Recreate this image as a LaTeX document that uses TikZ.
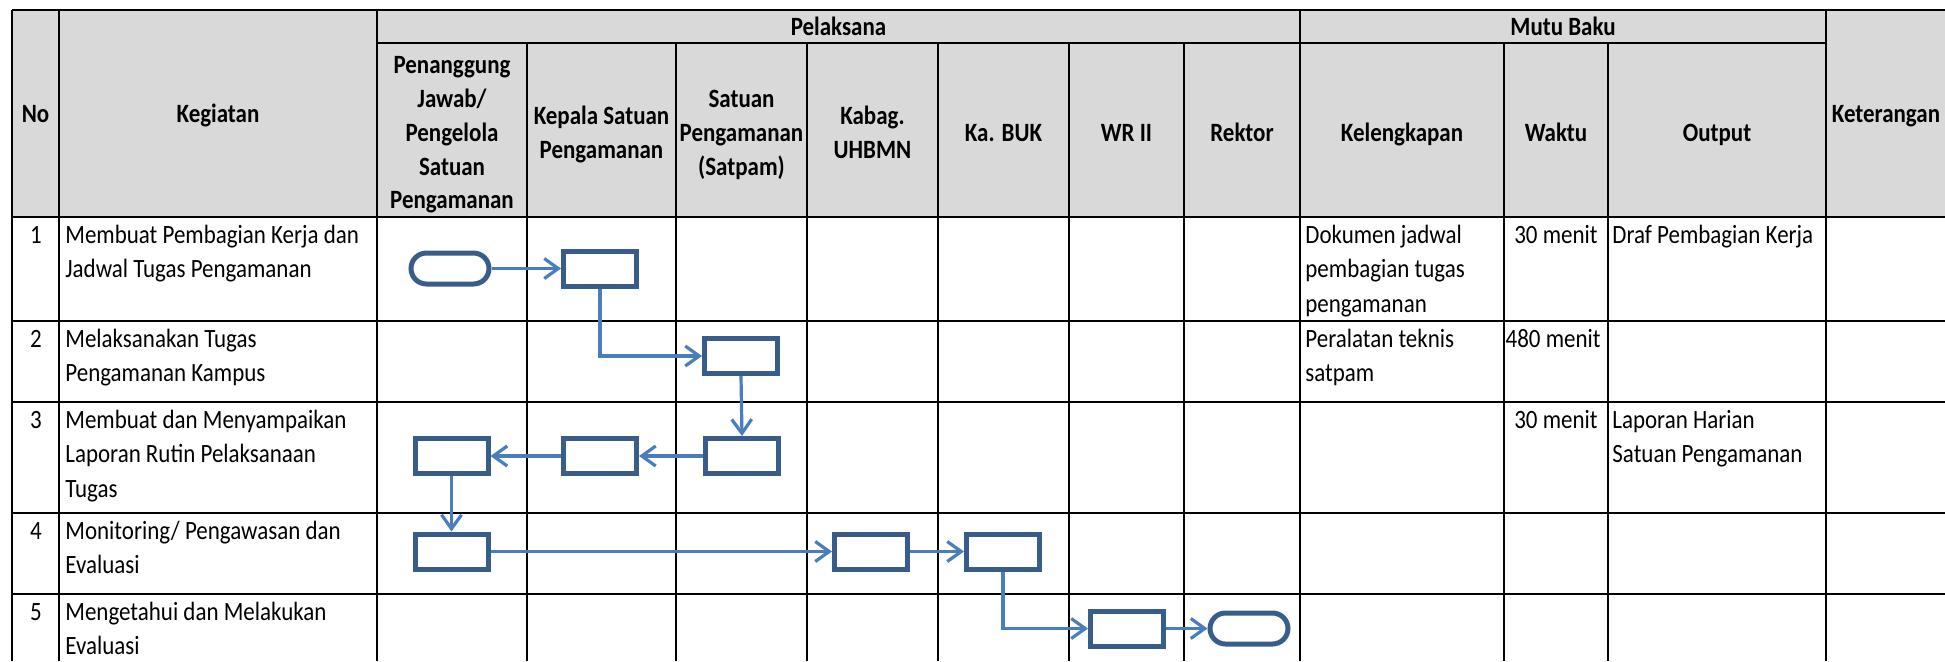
\documentclass[tikz,border=0pt]{standalone}
\usepackage{fontspec}
\setmainfont{Carlito}[FakeStretch=0.87]
\usetikzlibrary{arrows.meta}
\definecolor{hdrgray}{HTML}{D9D9D9}
\definecolor{shapeblue}{HTML}{385D8A}
\definecolor{arrowblue}{HTML}{4A7EBB}
\newcommand\mybody{\fontsize{13.2}{17.25}\selectfont}
\newcommand\myhead{\fontsize{13.2}{17.25}\selectfont\bfseries}
\begin{document}
\begin{tikzpicture}[x=0.5pt,y=-0.5pt,
  hdr/.style={font=\myhead, inner sep=0pt, anchor=base},
  txt/.style={font=\mybody, inner sep=0pt, anchor=base west},
  txtc/.style={font=\mybody, inner sep=0pt, anchor=base},
  txtr/.style={font=\mybody, inner sep=0pt, anchor=base east},
  grid/.style={line width=1pt, black},
  proc/.style={draw=shapeblue, line width=2.5pt, fill=white, minimum width=36.5pt, minimum height=17.5pt, inner sep=0pt},
  term/.style={proc, rounded corners=7.75pt, minimum width=39pt, minimum height=15.5pt},
  flow/.style={draw=arrowblue, line width=1.6pt, -{Straight Barb[length=7pt,width=10pt]}}]
\useasboundingbox (0,0) rectangle (1945,661);
\begin{scope}
\clip (0,0) rectangle (1945,661);
% header fill
\fill[hdrgray] (12,10) rectangle (1945,217);
% horizontal lines
\draw[grid] (12,10) -- (1945,10);
\draw[grid] (377,43) -- (1826,43);
\foreach \yy in {217,321,402,513,594} \draw[grid] (12,\yy) -- (1945,\yy);
% vertical lines
\foreach \xx in {12,59,377,1300,1826} \draw[grid] (\xx,10) -- (\xx,661);
\foreach \xx in {527,676,807,938,1069,1184,1504,1608} \draw[grid] (\xx,43) -- (\xx,661);
\end{scope}
% header texts
\node[hdr] (hNo) at (35.5,122) {No};
\node[hdr] (hKeg) at (218,122) {Kegiatan};
\node[hdr] (hPel) at (838.5,35) {Pelaksana};
\node[hdr] (hMutu) at (1563,35) {Mutu Baku};
\node[hdr] (hKet) at (1886,122) {Keterangan};
\node[hdr] (hPenA) at (452,73.5) {Penanggung};
\node[hdr] (hPenB) at (452,107) {Jawab/};
\node[hdr] (hPenC) at (452,141) {Pengelola};
\node[hdr] (hPenD) at (452,175) {Satuan};
\node[hdr] (hPenE) at (452,208.5) {Pengamanan};
\node[hdr] (hKepA) at (601.5,124) {Kepala Satuan};
\node[hdr] (hKepB) at (601.5,158) {Pengamanan};
\node[hdr] (hSatA) at (741.5,107) {Satuan};
\node[hdr] (hSatB) at (741.5,141) {Pengamanan};
\node[hdr] (hSatC) at (741.5,175) {(Satpam)};
\node[hdr] (hKabA) at (872.5,124) {Kabag.};
\node[hdr] (hKabB) at (872.5,158) {UHBMN};
\node[hdr] (hBuk) at (1003.5,141) {Ka. BUK};
\node[hdr] (hWr) at (1126.5,141) {WR II};
\node[hdr] (hRek) at (1242,141) {Rektor};
\node[hdr] (hKel) at (1402,141) {Kelengkapan};
\node[hdr] (hWak) at (1556,141) {Waktu};
\node[hdr] (hOut) at (1717,141) {Output};
% row numbers
\node[txtc] (n1) at (36,243) {1};
\node[txtc] (n2) at (36,347) {2};
\node[txtc] (n3) at (36,428) {3};
\node[txtc] (n4) at (36,539) {4};
\node[txtc] (n5) at (36,620) {5};
% kegiatan
\node[txt] (k1a) at (65,243) {Membuat Pembagian Kerja dan};
\node[txt] (k1b) at (65,277.5) {Jadwal Tugas Pengamanan};
\node[txt] (k2a) at (65,347) {Melaksanakan Tugas};
\node[txt] (k2b) at (65,381.5) {Pengamanan Kampus};
\node[txt] (k3a) at (65,428) {Membuat dan Menyampaikan};
\node[txt] (k3b) at (65,462.5) {Laporan Rutin Pelaksanaan};
\node[txt] (k3c) at (65,497) {Tugas};
\node[txt] (k4a) at (65,539) {Monitoring/ Pengawasan dan};
\node[txt] (k4b) at (65,573.5) {Evaluasi};
\node[txt] (k5a) at (65,620) {Mengetahui dan Melakukan};
\node[txt] (k5b) at (65,654.5) {Evaluasi};
% kelengkapan
\node[txt] (l1a) at (1305,243) {Dokumen jadwal};
\node[txt] (l1b) at (1305,277.5) {pembagian tugas};
\node[txt] (l1c) at (1305,312) {pengamanan};
\node[txt] (l2a) at (1305,347) {Peralatan teknis};
\node[txt] (l2b) at (1305,381.5) {satpam};
% waktu
\node[txtr] (w1) at (1598,243) {30 menit};
\node[txtr] (w2) at (1601,347) {480 menit};
\node[txtr] (w3) at (1598,428) {30 menit};
% output
\node[txt] (o1) at (1612,243) {Draf Pembagian Kerja};
\node[txt] (o3a) at (1612,428) {Laporan Harian};
\node[txt] (o3b) at (1612,462.5) {Satuan Pengamanan};
% flowchart shapes
\node[term] (start) at (450,268.5) {};
\node[proc] (b1) at (600,268.5) {};
\node[proc] (b2) at (741,356) {};
\node[proc] (b3) at (742,456) {};
\node[proc] (b4) at (600,456) {};
\node[proc] (b5) at (451.5,456) {};
\node[proc] (b6) at (451.5,551.5) {};
\node[proc] (b7) at (871,551.5) {};
\node[proc] (b8) at (1003,551.5) {};
\node[proc] (b9) at (1127,628.5) {};
\node[term] (stop) at (1249,628.5) {};
% connectors
\draw[flow] (start.east) -- (b1.west);
\draw[flow] (b1.south) |- (b2.west);
\draw[flow] (b2.south) -- (b3.north);
\draw[flow] (b3.west) -- (b4.east);
\draw[flow] (b4.west) -- (b5.east);
\draw[flow] (b5.south) -- (b6.north);
\draw[flow] (b6.east) -- (b7.west);
\draw[flow] (b7.east) -- (b8.west);
\draw[flow] (b8.south) |- (b9.west);
\draw[flow] (b9.east) -- (stop.west);
\end{tikzpicture}
\end{document}
